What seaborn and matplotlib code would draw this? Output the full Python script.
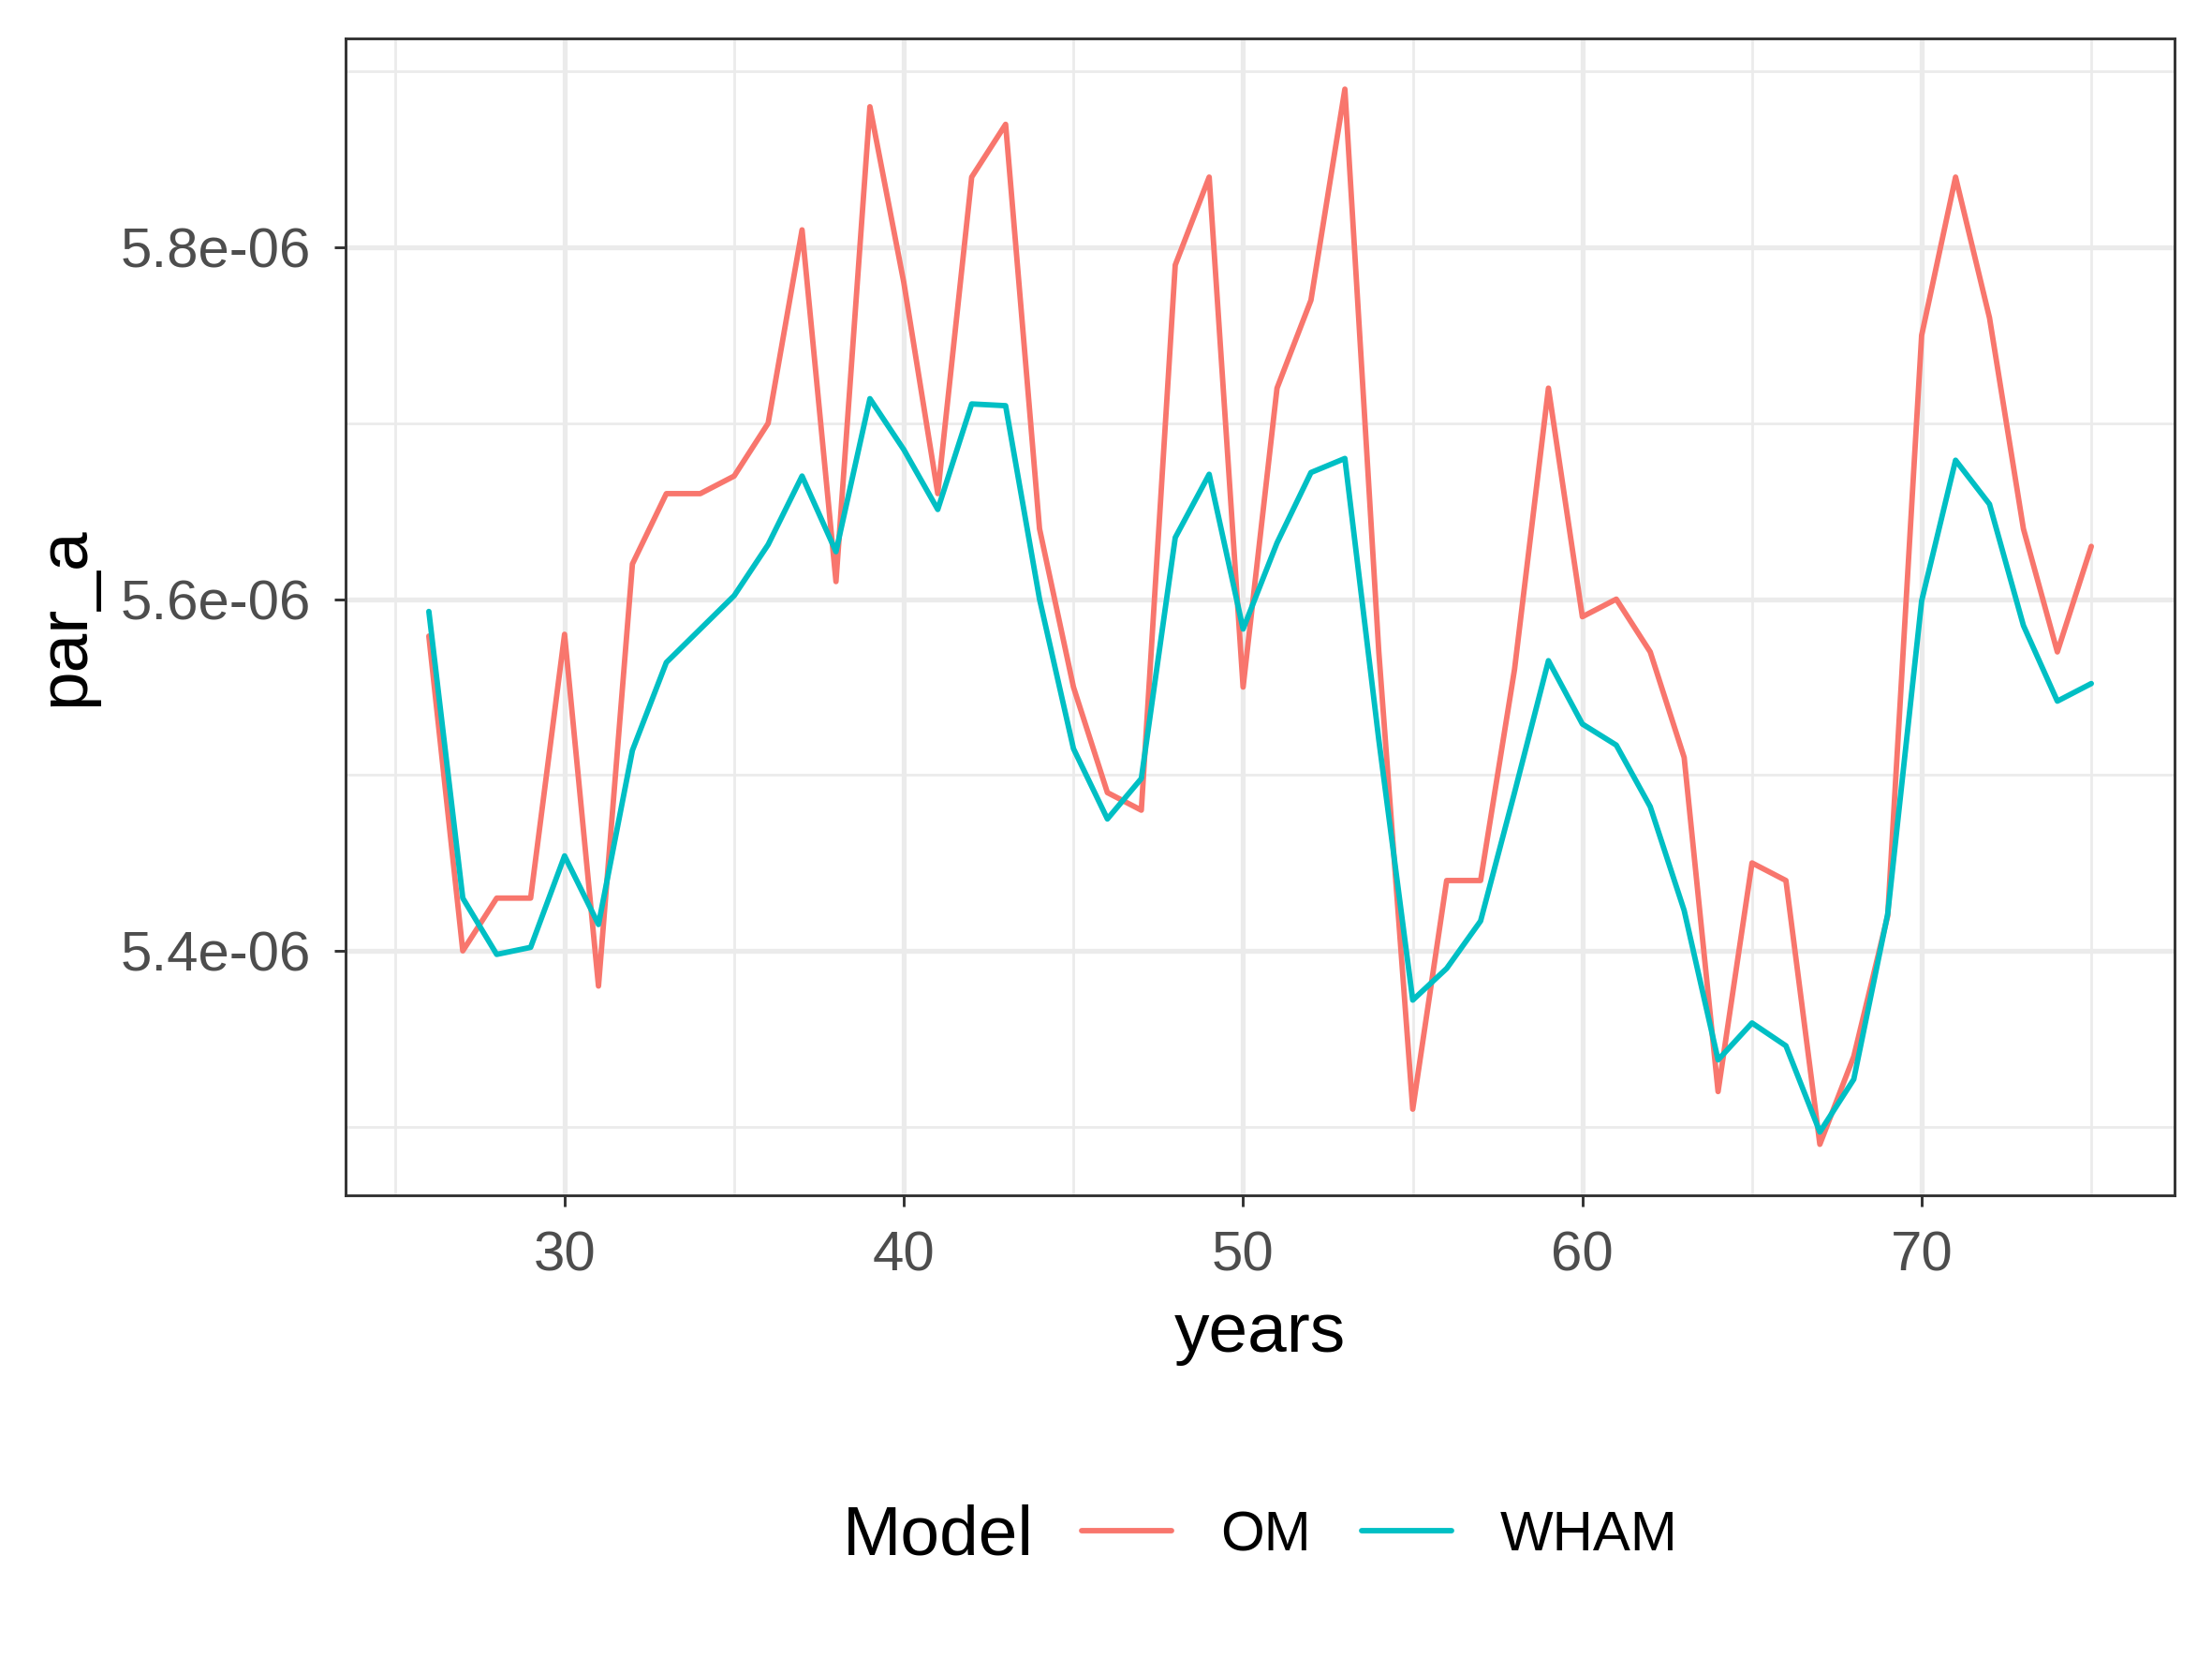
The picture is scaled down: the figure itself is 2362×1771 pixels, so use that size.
import matplotlib
matplotlib.use("Agg")
import matplotlib.pyplot as plt
import matplotlib.ticker as mticker
from matplotlib.lines import Line2D
import seaborn as sns
import pandas as pd

years = list(range(26, 76))
# values in units of 1e-06
om_micro = [5.579, 5.40, 5.43, 5.43, 5.58, 5.38, 5.62, 5.66, 5.66, 5.67,
            5.70, 5.81, 5.61, 5.88, 5.78, 5.66, 5.84, 5.87, 5.64, 5.55,
            5.49, 5.48, 5.79, 5.84, 5.55, 5.72, 5.77, 5.89, 5.57, 5.31,
            5.44, 5.44, 5.56, 5.72, 5.59, 5.60, 5.57, 5.51, 5.32, 5.45,
            5.44, 5.29, 5.34, 5.42, 5.75, 5.84, 5.76, 5.64, 5.57, 5.63]
wham_micro = [5.593, 5.430, 5.398, 5.402, 5.454, 5.415, 5.514, 5.564, 5.583, 5.602,
              5.631, 5.670, 5.627, 5.714, 5.685, 5.651, 5.711, 5.710, 5.600, 5.515,
              5.475, 5.498, 5.635, 5.671, 5.583, 5.632, 5.672, 5.680, 5.520, 5.372,
              5.390, 5.417, 5.490, 5.565, 5.529, 5.517, 5.482, 5.423, 5.338, 5.359,
              5.346, 5.297, 5.327, 5.421, 5.599, 5.679, 5.654, 5.585, 5.542, 5.552]
models = ["OM", "WHAM"]
colors = ["#F8766D", "#00BFC4"]
x_ticks = [30, 40, 50, 60, 70]
y_ticks = [5.4e-06, 5.6e-06, 5.8e-06]

df = pd.DataFrame({
    "years": years + years,
    "par_a": [v * 1e-6 for v in om_micro] + [v * 1e-6 for v in wham_micro],
    "Model": [models[0]] * len(years) + [models[1]] * len(years),
})

sns.set_theme(style="white")
plt.rcParams["font.family"] = ["Liberation Sans", "DejaVu Sans"]

fig = plt.figure(figsize=(2362 / 300, 1771 / 300), dpi=300)
left, right, bottom, top = 0.1563, 0.983, 0.2795, 0.977
ax = fig.add_axes([left, bottom, right - left, top - bottom])

sns.lineplot(data=df, x="years", y="par_a", hue="Model", palette=colors,
             linewidth=1.4, ax=ax, legend=False, zorder=3)

ax.set_xlim(23.55, 77.45)
ax.set_ylim(5.261e-06, 5.919e-06)
ax.set_xticks(x_ticks)
ax.set_yticks(y_ticks)
ax.xaxis.set_minor_locator(mticker.FixedLocator([25, 35, 45, 55, 65, 75]))
ax.yaxis.set_minor_locator(mticker.FixedLocator([5.3e-06, 5.5e-06, 5.7e-06, 5.9e-06]))
ax.yaxis.set_major_formatter(mticker.FuncFormatter(lambda v, p: f"{v:.1e}"))
ax.yaxis.get_offset_text().set_visible(False)

ax.grid(True, which="major", color="#EBEBEB", linewidth=1.25, zorder=0)
ax.grid(True, which="minor", color="#EBEBEB", linewidth=0.65, zorder=0)
ax.set_axisbelow(True)
for s in ax.spines.values():
    s.set_color("#333333")
    s.set_linewidth(0.7)

ax.tick_params(axis="both", which="major", length=2.9, width=0.7, color="#333333",
               labelsize=14.4, labelcolor="#4D4D4D", pad=6, bottom=True, left=True)
ax.tick_params(axis="both", which="minor", length=0)

ax.set_xlabel("years", fontsize=18, color="black", labelpad=5)
ax.set_ylabel("par_a", fontsize=18, color="black", labelpad=6)

handles = [Line2D([0], [0], color=c, linewidth=1.4) for c in colors]
fig.text(0.381, 0.074, "Model", fontsize=18, ha="left", va="center", color="black")
leg = fig.legend(handles, models, loc="center left", bbox_to_anchor=(0.489, 0.074),
                 ncol=2, frameon=False, fontsize=14.4, handlelength=1.6,
                 handletextpad=0.87, columnspacing=0.9, borderaxespad=0, borderpad=0)
for t in leg.get_texts():
    t.set_color("black")

fig.savefig("out.png", dpi=300)
